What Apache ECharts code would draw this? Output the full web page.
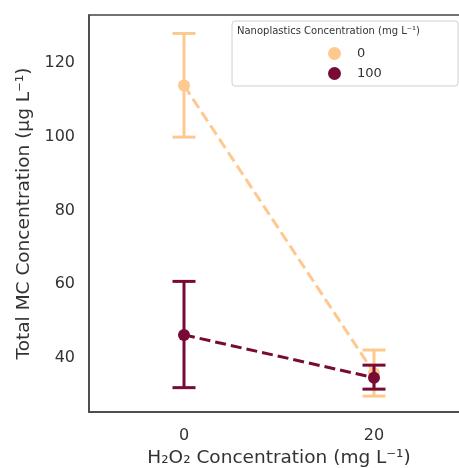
<!DOCTYPE html>
<html>
<head>
<meta charset="utf-8">
<script src="https://cdn.jsdelivr.net/npm/echarts@6/dist/echarts.min.js"></script>
<style>
  html, body { margin: 0; padding: 0; background: #fff; }
  #chart { width: 459px; height: 468px; }
</style>
</head>
<body>
<div id="chart"></div>
<script>
// data
var h2o2Levels = ['0', '20']
var groups = ['0', '100']
var groupColors = ['#fec98e', '#780a36']
var meanVals = [[113.9, 36.0], [46.3, 34.7]]
var lowVals = [[99.9, 29.7], [32.0, 31.6]]
var highVals = [[128.0, 42.2], [60.8, 38.1]]
var yTicks = [40, 60, 80, 100, 120]

var font = 'DejaVu Sans'
var chart = echarts.init(document.getElementById('chart'))

var series = []
groups.forEach(function (g, gi) {
    series.push({
        name: g,
        type: 'line',
        data: meanVals[gi],
        symbol: 'circle',
        symbolSize: 12,
        itemStyle: { color: groupColors[gi] },
        lineStyle: { color: groupColors[gi], width: 3, type: [11, 5] },
        z: 3 + gi * 2,
        animation: false
    })
    series.push({
        name: g,
        type: 'custom',
        data: h2o2Levels.map(function (c, i) { return [i, lowVals[gi][i], highVals[gi][i]] }),
        renderItem: function (params, api) {
            var lo = api.coord([api.value(0), api.value(1)])
            var hi = api.coord([api.value(0), api.value(2)])
            var hw = 11.5
            var st = { stroke: groupColors[gi], lineWidth: 3 }
            return {
                type: 'group',
                children: [
                    { type: 'line', shape: { x1: lo[0], y1: lo[1], x2: hi[0], y2: hi[1] }, style: st },
                    { type: 'line', shape: { x1: lo[0] - hw, y1: lo[1], x2: lo[0] + hw, y2: lo[1] }, style: st },
                    { type: 'line', shape: { x1: hi[0] - hw, y1: hi[1], x2: hi[0] + hw, y2: hi[1] }, style: st }
                ]
            }
        },
        z: 2 + gi * 2,
        animation: false
    })
})

chart.setOption({
    animation: false,
    grid: {
        left: 89, top: 15, width: 380, height: 397,
        outerBoundsMode: 'none',
        containLabel: false,
        show: true, borderColor: '#444', borderWidth: 1.5
    },
    xAxis: {
        type: 'category',
        data: h2o2Levels,
        boundaryGap: true,
        axisLine: { lineStyle: { color: '#444', width: 1.5 } },
        axisTick: { show: false },
        axisLabel: { color: '#333', fontFamily: font, fontSize: 16, margin: 16 },
        name: 'H₂O₂ Concentration (mg L⁻¹)',
        nameLocation: 'middle',
        nameGap: 37,
        nameTextStyle: { color: '#333', fontFamily: font, fontSize: 18.5 }
    },
    yAxis: {
        type: 'value',
        min: 25.4,
        max: 133,
        splitLine: { show: false },
        axisLine: { show: true, lineStyle: { color: '#444', width: 1.5 } },
        axisTick: { show: false },
        axisLabel: { color: '#333', fontFamily: font, fontSize: 16, margin: 14, customValues: yTicks },
        name: 'Total MC Concentration (μg L⁻¹)',
        nameLocation: 'middle',
        nameGap: 55,
        nameTextStyle: { color: '#333', fontFamily: font, fontSize: 18.5 }
    },
    legend: {
        data: groups,
        orient: 'vertical',
        left: 323,
        top: 42,
        z: 60,
        icon: 'circle',
        itemWidth: 13,
        itemHeight: 13,
        itemGap: 7,
        textStyle: { color: '#333', fontFamily: font, fontSize: 13, padding: [0, 0, 0, 11] }
    },
    graphic: [
        {
            type: 'rect',
            shape: { x: 232, y: 21, width: 226, height: 65, r: 3 },
            style: { fill: 'rgba(255,255,255,0.85)', stroke: '#d0d0d0', lineWidth: 1 },
            z: 50
        },
        {
            type: 'text',
            left: 237,
            top: 26,
            style: { text: 'Nanoplastics Concentration (mg L⁻¹)', fill: '#333', font: '10px "DejaVu Sans"' },
            z: 51
        }
    ],
    series: series
})
</script>
</body>
</html>
